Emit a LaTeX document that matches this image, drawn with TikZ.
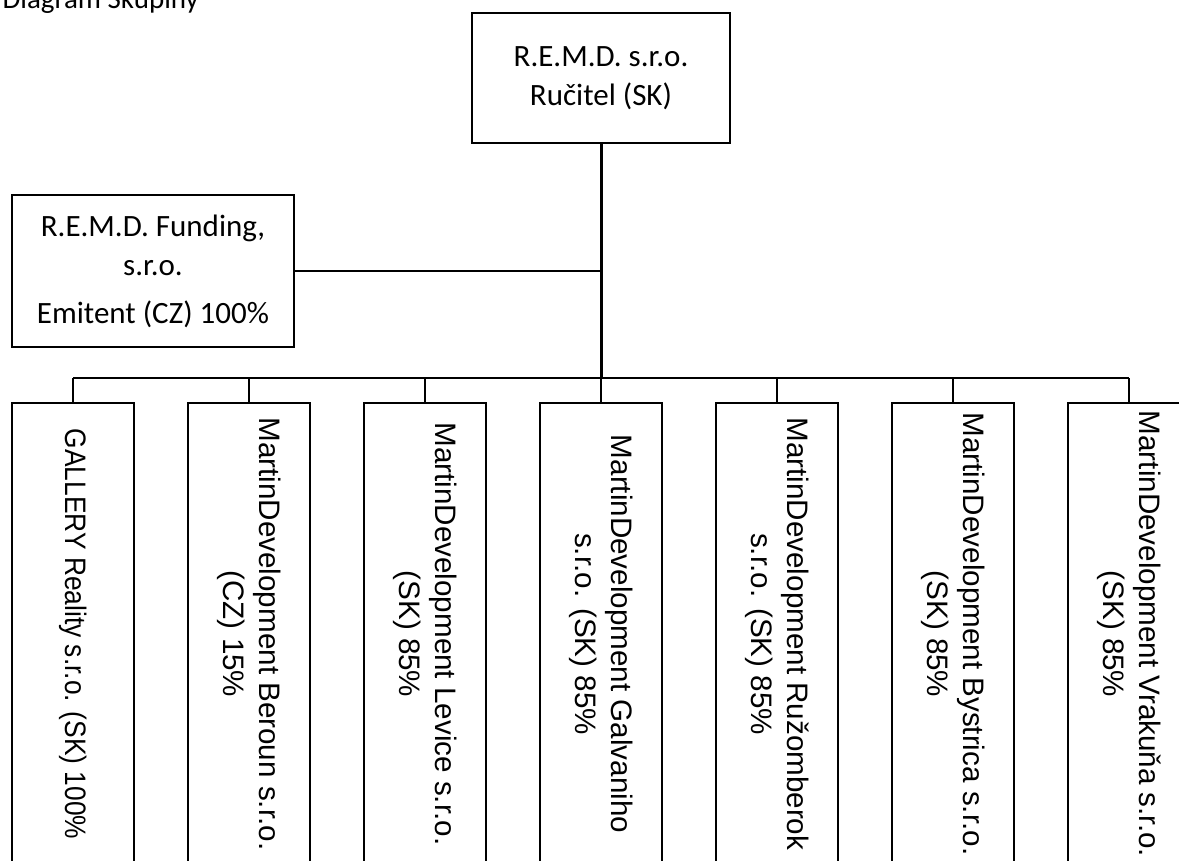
\documentclass[tikz,border=0pt]{standalone}
\usepackage{fontspec}
\usepackage{graphicx}
\setmainfont{Carlito}
\newfontfamily\vfont{Liberation Sans}
\begin{document}
\begin{tikzpicture}[x=1pt,y=1pt,
  box/.style={draw, line width=2pt, inner sep=0pt, align=center},
  conn/.style={line width=2pt},
  trunk/.style={line width=3pt},
  topfont/.style={font=\fontsize{31}{39}\selectfont},
  vbox/.style={box, rotate=-90, minimum width=462pt, minimum height=122pt,
    font=\vfont\fontsize{29.6}{36}\selectfont}]
\useasboundingbox (0,0) rectangle (1179,-861);
\clip (0,0) rectangle (1179,-861);

\node[anchor=base west, font=\fontsize{29}{35}\selectfont] (title) at (-1,-9) {Diagram Skupiny};

\node[box, topfont, minimum width=258pt, minimum height=130pt] (top) at (601,-78)
  {R.E.M.D. s.r.o.\\Ručitel (SK)};
\node[box, topfont, minimum width=282pt, minimum height=152pt] (fund) at (153,-271)
  {R.E.M.D. Funding,\\s.r.o.\\[9pt]Emitent (CZ) 100\%};

\node[vbox] (b1) at (73,-634) {\scalebox{0.89}[1]{GALLERY Reality s.r.o. (SK) 100\%}};
\node[vbox] (b2) at (249,-634) {MartinDevelopment Beroun s.r.o.\\(CZ) 15\%};
\node[vbox] (b3) at (425,-634) {MartinDevelopment Levice s.r.o.\\(SK) 85\%};
\node[vbox] (b4) at (601,-634) {MartinDevelopment Galvaniho\\s.r.o. (SK) 85\%};
\node[vbox] (b5) at (777,-634) {MartinDevelopment Ružomberok\\s.r.o. (SK) 85\%};
\node[vbox] (b6) at (953,-634) {MartinDevelopment Bystrica s.r.o.\\(SK) 85\%};
\node[vbox] (b7) at (1129,-634) {MartinDevelopment Vrakuňa s.r.o.\\(SK) 85\%};

\coordinate (bus) at (601,-378);
\draw[trunk] (top.south) -- (bus);
\draw[conn] (fund.east) -- (fund.east -| top.south);
\draw[conn] (b1.west |- bus) -- (b7.west |- bus);
\foreach \i in {1,...,7} {
  \draw[conn] (b\i.west |- bus) -- (b\i.west);
}
\end{tikzpicture}
\end{document}
